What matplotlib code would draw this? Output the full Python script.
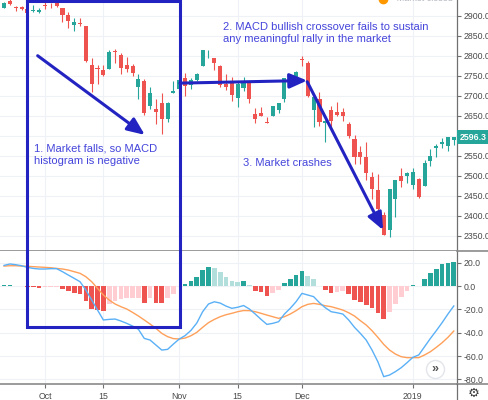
#!/usr/bin/env python3
"""S&P 500 daily candles (Sep 2018 - Jan 2019) with a MACD pane and the three annotations."""

import matplotlib

matplotlib.use("Agg")
import matplotlib.pyplot as plt
import matplotlib.transforms as transforms
from matplotlib.lines import Line2D
import numpy as np

dates = [
    "2018-09-20", "2018-09-21", "2018-09-24", "2018-09-25", "2018-09-26", "2018-09-27", "2018-09-28",
    "2018-10-01", "2018-10-02", "2018-10-03", "2018-10-04", "2018-10-05", "2018-10-08", "2018-10-09",
    "2018-10-10", "2018-10-11", "2018-10-12", "2018-10-15", "2018-10-16", "2018-10-17", "2018-10-18",
    "2018-10-19", "2018-10-22", "2018-10-23", "2018-10-24", "2018-10-25", "2018-10-26", "2018-10-29",
    "2018-10-30", "2018-10-31", "2018-11-01", "2018-11-02", "2018-11-05", "2018-11-06", "2018-11-07",
    "2018-11-08", "2018-11-09", "2018-11-12", "2018-11-13", "2018-11-14", "2018-11-15", "2018-11-16",
    "2018-11-19", "2018-11-20", "2018-11-21", "2018-11-23", "2018-11-26", "2018-11-27", "2018-11-28",
    "2018-11-29", "2018-11-30", "2018-12-03", "2018-12-04", "2018-12-06", "2018-12-07", "2018-12-10",
    "2018-12-11", "2018-12-12", "2018-12-13", "2018-12-14", "2018-12-17", "2018-12-18", "2018-12-19",
    "2018-12-20", "2018-12-21", "2018-12-24", "2018-12-26", "2018-12-27", "2018-12-28", "2018-12-31",
    "2019-01-02", "2019-01-03", "2019-01-04", "2019-01-07", "2019-01-08", "2019-01-09", "2019-01-10",
    "2019-01-11",
]

opens = [
    2919.7, 2936.8, 2921.8, 2921.8, 2917.0, 2911.7, 2910.0,
    2926.3, 2923.8, 2931.7, 2919.4, 2902.5, 2877.5, 2882.5, 2873.9, 2776.9, 2770.5, 2763.8,
    2767.1, 2811.7, 2802.0, 2775.7, 2773.9, 2721.0, 2737.9, 2674.9, 2667.9, 2682.7,
    2640.7, 2705.6, 2717.6, 2745.5, 2726.4, 2738.4, 2774.1, 2806.4, 2794.1, 2773.9,
    2730.1, 2737.9, 2693.5, 2718.5, 2730.7, 2654.6, 2657.7, 2633.4, 2650.0, 2663.8,
    2691.5, 2737.0, 2737.8, 2790.5, 2782.4, 2663.5, 2691.3, 2630.9, 2664.4, 2658.2,
    2658.7, 2629.7, 2590.8, 2559.9, 2547.1, 2496.8, 2465.4, 2400.6, 2363.1, 2442.5,
    2498.8, 2498.9, 2477.0, 2491.9, 2474.3, 2535.6, 2568.1, 2580.0, 2573.5, 2588.1,
]
highs = [
    2934.8, 2940.9, 2923.8, 2923.9, 2931.2, 2927.2, 2920.5,
    2937.1, 2931.4, 2939.9, 2919.8, 2909.6, 2894.0, 2894.8, 2874.0, 2795.1, 2775.8, 2776.0,
    2813.5, 2816.9, 2806.0, 2797.8, 2778.9, 2753.6, 2742.6, 2722.7, 2692.4, 2706.9,
    2685.4, 2736.7, 2741.7, 2756.6, 2744.3, 2756.8, 2815.2, 2814.8, 2794.1, 2776.0,
    2754.6, 2746.8, 2735.4, 2746.8, 2733.2, 2669.4, 2670.7, 2647.6, 2674.4, 2682.5,
    2744.0, 2753.8, 2760.9, 2800.2, 2785.9, 2696.2, 2708.5, 2640.0, 2674.4, 2685.4,
    2670.2, 2635.1, 2601.1, 2574.0, 2585.3, 2509.6, 2504.4, 2410.3, 2467.8, 2489.1,
    2520.3, 2509.2, 2519.5, 2493.1, 2538.1, 2566.2, 2579.8, 2595.3, 2597.8, 2596.3,
]
lows = [
    2919.7, 2927.1, 2912.6, 2913.7, 2903.3, 2909.3, 2907.5,
    2917.9, 2919.4, 2921.4, 2883.9, 2869.3, 2862.0, 2874.3, 2784.9, 2710.5, 2729.4, 2749.0,
    2766.9, 2781.8, 2755.2, 2760.3, 2749.2, 2691.4, 2651.9, 2667.8, 2628.2, 2603.5,
    2635.3, 2705.6, 2705.0, 2700.4, 2717.9, 2737.1, 2774.1, 2795.0, 2764.2, 2722.0,
    2715.0, 2685.8, 2670.8, 2712.2, 2681.1, 2631.5, 2649.8, 2631.1, 2650.0, 2655.9,
    2684.4, 2722.9, 2732.8, 2773.4, 2697.2, 2621.5, 2623.1, 2583.2, 2621.3, 2650.3,
    2637.3, 2593.8, 2530.5, 2528.7, 2489.0, 2441.2, 2408.6, 2351.1, 2346.6, 2397.9,
    2472.9, 2482.8, 2467.5, 2444.0, 2474.3, 2524.6, 2547.6, 2568.9, 2562.0, 2577.4,
]
closes = [
    2930.8, 2929.7, 2919.4, 2915.6, 2906.0, 2914.0, 2914.0,
    2924.6, 2923.4, 2925.5, 2901.6, 2885.6, 2884.4, 2880.3, 2785.7, 2728.4, 2767.1, 2750.8,
    2809.9, 2809.2, 2768.8, 2767.8, 2755.9, 2740.7, 2656.1, 2705.6, 2658.7, 2641.3,
    2682.6, 2711.7, 2740.4, 2723.1, 2738.3, 2755.5, 2813.9, 2806.8, 2781.0, 2726.2,
    2722.2, 2701.6, 2730.2, 2736.3, 2690.7, 2641.9, 2649.9, 2632.6, 2673.5, 2682.2,
    2743.8, 2737.8, 2760.2, 2790.4, 2700.1, 2696.0, 2633.1, 2637.7, 2636.8, 2651.1,
    2650.5, 2600.0, 2545.9, 2546.2, 2507.0, 2467.4, 2416.6, 2351.1, 2467.7, 2488.8,
    2485.7, 2506.9, 2510.0, 2447.9, 2531.9, 2549.7, 2574.4, 2585.0, 2596.6, 2596.3,
]

macd_line = [
    17.7, 18.9, 18.3, 17.4, 16.0, 15.1, 14.6,
    14.6, 14.9, 14.9, 12.3, 9.4, 6.6, 3.7, -3.4, -12.0, -20.6, -29.1,
    -28.6, -28.3, -30.0, -32.0, -34.3, -37.1, -44.9, -46.3, -50.6, -54.9,
    -54.3, -49.7, -45.4, -42.5, -38.0, -31.7, -22.0, -15.4, -13.5, -14.6,
    -17.2, -19.1, -18.2, -16.7, -19.7, -24.0, -28.6, -32.9, -32.0, -30.6,
    -24.0, -19.1, -13.4, -6.3, -7.7, -9.1, -14.3, -18.6, -22.0, -22.9,
    -24.0, -29.1, -35.4, -40.6, -46.3, -54.9, -64.9, -77.7, -76.3, -73.4,
    -70.0, -65.7, -61.1, -59.1, -52.0, -44.9, -38.3, -31.4, -24.0, -17.1,
]
signal_line = [
    17.1, 17.4, 17.4, 17.1, 16.9, 16.6, 16.3,
    16.0, 15.7, 15.1, 14.6, 13.7, 12.3, 10.9, 8.0, 3.7, -2.0, -7.7,
    -12.0, -15.4, -17.7, -19.7, -22.6, -25.7, -29.1, -32.6, -36.3, -40.6,
    -43.4, -45.1, -45.4, -44.6, -42.6, -39.7, -35.4, -31.4, -28.6, -26.3,
    -24.6, -23.4, -22.0, -21.0, -21.1, -22.0, -23.4, -24.9, -26.3, -27.7,
    -26.3, -24.0, -21.1, -17.7, -15.7, -14.9, -15.7, -16.9, -17.7, -19.1,
    -20.6, -22.9, -25.7, -29.7, -33.4, -38.3, -44.0, -50.0, -54.9, -58.3,
    -60.6, -61.4, -61.4, -61.4, -59.1, -56.3, -52.6, -48.6, -44.0, -38.6,
]
histogram = [
    0.5, 0.8, 0.3, -0.3, -1.1, -1.2, -1.7,
    -1.0, -0.8, -0.6, -2.9, -4.3, -6.3, -7.1, -12.9, -19.7, -20.6, -21.0,
    -15.5, -12.9, -11.4, -10.6, -10.4, -10.0, -14.3, -10.0, -14.3, -14.9,
    -10.6, -7.1, 0.3, 1.4, 4.6, 8.0, 13.4, 16.0, 15.1, 11.7,
    7.4, 4.3, 3.8, 4.3, 0.6, -4.0, -5.4, -8.3, -5.7, -3.4,
    2.3, 5.7, 9.4, 13.1, 8.6, 5.7, -0.3, -3.4, -5.7, -4.9,
    -4.0, -7.1, -12.0, -14.0, -16.3, -19.1, -22.9, -28.6, -22.0, -15.4,
    -9.7, -4.0, 0.6, 0.3, 5.7, 10.9, 14.6, 18.6, 20.0, 20.9,
]

tick_dates = ["2018-10-01", "2018-10-15", "2018-11-01", "2018-11-15", "2018-12-03", "2019-01-02"]
tick_labels = ["Oct", "15", "Nov", "15", "Dec", "2019"]
price_ticks = [2350, 2400, 2450, 2500, 2550, 2600, 2650, 2700, 2750, 2800, 2850, 2900]
macd_ticks = [20, 0, -20, -40, -60, -80]
last_price = 2596.3

note_falls = "1. Market falls, so MACD\nhistogram is negative"
note_crossover = "2. MACD bullish crossover fails to sustain\nany meaningful rally in the market"
note_crash = "3. Market crashes"

GREEN = "#26a69a"
RED = "#ef5350"
LIGHT_GREEN = "#b2dfdb"
LIGHT_RED = "#ffcdd2"
GRID = "#eef1f6"
AXIS = "#707070"
LABEL = "#4a4a4a"
NOTE_LINE = "#2323c2"
NOTE_TEXT = "#4545dc"

FIG_W, FIG_H = 488, 400
PANE_RIGHT = 457
PRICE_BOTTOM = 250.7
MACD_BOTTOM = 384


def histogram_colors(values):
    colors = []
    previous = None
    for value in values:
        rising = previous is None or value > previous
        if value >= 0:
            colors.append(GREEN if rising else LIGHT_GREEN)
        else:
            colors.append(LIGHT_RED if rising else RED)
        previous = value
    return colors


def style_pane(axis, ticks, limits, hide_near=None):
    axis.set_ylim(*limits)
    axis.yaxis.tick_right()
    axis.set_yticks(ticks)
    # the price scale drops a tick label that the last-price tag covers
    labels = ["" if hide_near is not None and abs(t - hide_near) < 20 else f"{t:.1f}" for t in ticks]
    axis.set_yticklabels(labels)
    axis.tick_params(axis="y", length=3, width=0.8, color=AXIS, labelsize=6.3, labelcolor=LABEL, pad=1.5)
    axis.grid(True, color=GRID, linewidth=0.8)
    axis.set_axisbelow(True)
    for side in ("top", "left"):
        axis.spines[side].set_visible(False)
    axis.spines["right"].set_color(AXIS)
    axis.spines["right"].set_linewidth(0.9)
    axis.spines["bottom"].set_color("#8a8a8a")
    axis.spines["bottom"].set_linewidth(1.2)


def draw_candles(axis, x):
    o, h, l, c = (np.asarray(v) for v in (opens, highs, lows, closes))
    colors = np.where(c >= o, GREEN, RED)
    axis.vlines(x, l, h, colors=colors, linewidth=0.8, zorder=2)
    axis.bar(x, np.maximum(np.abs(c - o), 1.3), width=0.7, bottom=np.minimum(o, c),
             color=colors, linewidth=0, zorder=3)


def draw_notes(fig, price_ax, macd_ax):
    arrow = dict(arrowstyle="-|>,head_length=0.75,head_width=0.32", color=NOTE_LINE, lw=2.2,
                 mutation_scale=14, shrinkA=0, shrinkB=0)
    price_ax.annotate("", xy=(24.1, 2602), xytext=(5.75, 2800), arrowprops=arrow, zorder=6)
    price_ax.annotate("", xy=(51.9, 2738), xytext=(30.1, 2731.5), arrowprops=arrow, zorder=6)
    price_ax.annotate("", xy=(64.9, 2364), xytext=(51.9, 2735), arrowprops=arrow, zorder=6)

    font = dict(fontsize=8, color=NOTE_TEXT, ha="left", va="center", linespacing=1.25, zorder=7)
    price_ax.text(5.1, 2552, note_falls, **font)
    price_ax.text(37.4, 2856, note_crossover, **font)
    price_ax.text(40.85, 2531, note_crash, **font)

    # box around the first leg spans both panes
    blend = transforms.blended_transform_factory(macd_ax.transData, fig.transFigure)
    bottom = fig.transFigure.inverted().transform(macd_ax.transData.transform((0, -34.9)))[1]
    top = 1 - 0.6 / FIG_H
    left, right = 3.97, 30.1
    fig.add_artist(Line2D([left, right, right, left, left], [top, top, bottom, bottom, top],
                          transform=blend, color=NOTE_LINE, linewidth=2.2, solid_joinstyle="miter", zorder=8))


def draw_chrome(fig, price_ax, macd_ax):
    px = lambda x, y: (x / FIG_W, 1 - y / FIG_H)
    for y in (PRICE_BOTTOM, MACD_BOTTOM):
        fig.add_artist(Line2D([PANE_RIGHT / FIG_W, 1], [1 - y / FIG_H] * 2, color="#8a8a8a", linewidth=1.2))
    fig.add_artist(Line2D([PANE_RIGHT / FIG_W] * 2, [0, 1 - MACD_BOTTOM / FIG_H], color=AXIS, linewidth=0.9))

    # last price tag on the price scale
    tag = transforms.blended_transform_factory(price_ax.transAxes, price_ax.transData)
    price_ax.text(1.006, last_price, f"{last_price:.1f}", transform=tag, ha="left", va="center",
                  fontsize=6.3, color="white", fontweight="bold", clip_on=False,
                  bbox=dict(boxstyle="square,pad=0.3", facecolor=GREEN, edgecolor="none"))

    # market-status chip cut off at the top edge
    x, y = px(383, -1)
    fig.add_artist(Line2D([x], [y], marker="o", markersize=6, color="#ff9800", linestyle="none"))
    fig.text(391 / FIG_W, 1 - 0.8 / FIG_H, "\u2022 Market closed", fontsize=6.5, color="#b2b5be", va="baseline")

    # scroll button and settings gear
    macd_ax.plot([0.952], [0.11], transform=macd_ax.transAxes, marker="o", markersize=13,
                 markerfacecolor="white", markeredgecolor="#e3e5ea", markeredgewidth=1, clip_on=False, zorder=9)
    macd_ax.text(0.952, 0.11, "\u00bb", transform=macd_ax.transAxes, ha="center", va="center",
                 fontsize=9, color="#555555", fontweight="bold", zorder=10)
    x, y = px(474, 393.5)
    fig.text(x, y, "\u2699", ha="center", va="center", fontsize=9.5, color="#3a3a3a")


def main():
    plt.rcParams["font.family"] = ["Liberation Sans", "DejaVu Sans"]
    fig = plt.figure(figsize=(FIG_W / 100, FIG_H / 100), dpi=100)
    width = PANE_RIGHT / FIG_W
    price_ax = fig.add_axes([0, 1 - PRICE_BOTTOM / FIG_H, width, PRICE_BOTTOM / FIG_H])
    macd_ax = fig.add_axes([0, 1 - MACD_BOTTOM / FIG_H, width, (MACD_BOTTOM - PRICE_BOTTOM) / FIG_H],
                           sharex=price_ax)

    x = np.arange(len(dates))
    draw_candles(price_ax, x)

    macd_ax.bar(x, histogram, width=0.8, color=histogram_colors(histogram), linewidth=0, zorder=2)
    macd_ax.plot(x, signal_line, color="#ffa05a", linewidth=1.0, zorder=3)
    macd_ax.plot(x, macd_line, color="#5ab0f6", linewidth=1.0, zorder=4)

    style_pane(price_ax, price_ticks, (2312.5, 2939.3), hide_near=last_price)
    style_pane(macd_ax, macd_ticks, (-84.0, 30.3))
    price_ax.set_xlim(-0.7, 77.55)

    macd_ax.set_xticks([dates.index(d) for d in tick_dates])
    macd_ax.set_xticklabels(tick_labels)
    macd_ax.tick_params(axis="x", length=3, width=0.8, color=AXIS, labelsize=6.3, labelcolor=LABEL, pad=3)
    price_ax.tick_params(axis="x", bottom=False, labelbottom=False)

    draw_notes(fig, price_ax, macd_ax)
    draw_chrome(fig, price_ax, macd_ax)

    fig.savefig("out.png", dpi=100)
    plt.close(fig)


if __name__ == "__main__":
    main()
